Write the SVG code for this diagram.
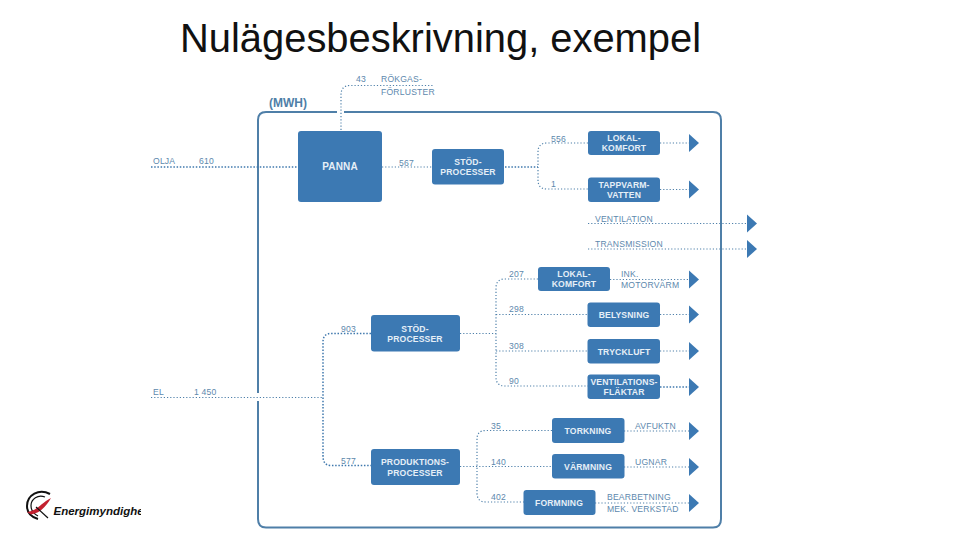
<svg xmlns="http://www.w3.org/2000/svg" width="960" height="540" viewBox="0 0 960 540">
<style>
text{font-family:"Liberation Sans",Arial,sans-serif}
.title{font-size:39.900px;fill:#111}
.frame{fill:none;stroke:#4f7fa8;stroke-width:2}
.c{fill:none;stroke:#4f80aa;stroke-width:1.200;stroke-dasharray:1.200 2}
.c2{fill:none;stroke:#3f78ad;stroke-width:1.500;stroke-dasharray:1.500 1.700}
.box{fill:#3c79b3}
.bt{font-size:8.600px;fill:#e6eff7;text-anchor:middle;letter-spacing:.15px;font-weight:bold}
.big{font-size:10px}
.l{font-size:8.600px;fill:#5d88ad;letter-spacing:.2px}
.h{font-size:12px;fill:#4f7fa8;font-weight:bold}
.ah{fill:#3c79b3}
</style>
<defs>
<marker id="a" markerUnits="userSpaceOnUse" markerWidth="11" markerHeight="20" refX="0" refY="9.500" orient="auto"><path d="M0 0.500L10 9.500L0 18.500Z" class="ah"/></marker>
</defs>
<rect width="960" height="540" fill="#fff"/>
<text class="title" x="180" y="51.500">Nulägesbeskrivning, exempel</text>
<path class="frame" d="M337 112H266Q258 112 258 120V393M258 401V519Q258 527.500 266 527.500H713Q721 527.500 721 519V120Q721 112 713 112H344"/>
<text class="h" x="269" y="106.500">(MWH)</text>
<g id="connectors">
<path class="c2" d="M151 167H298"/>
<path class="c" d="M382 167H432"/>
<path class="c" d="M341 130V95Q341 85.500 350 85.500H434"/>
<path class="c2" d="M505 167H538"/>
<path class="c" d="M588 143H547Q538 143 538 152V180Q538 189 547 189H588"/>
<path class="c" d="M660 143H689" marker-end="url(#a)"/>
<path class="c" d="M660 189.500H689" marker-end="url(#a)"/>
<path class="c" d="M588 223.500H747" marker-end="url(#a)"/>
<path class="c" d="M588 249H747" marker-end="url(#a)"/>
<path class="c" d="M151 397.500H323"/>
<path class="c2" d="M371 333.500H331Q323 333.500 323 342V456Q323 465.500 331 465.500H371"/>
<path class="c" d="M460 333.500H496"/>
<path class="c" d="M538 279H505Q496 279 496 288V377Q496 386 505 386H588"/>
<path class="c" d="M496 314.500H588M496 351H588"/>
<path class="c" d="M610 279.500H689" marker-end="url(#a)"/>
<path class="c" d="M660 314.500H689" marker-end="url(#a)"/>
<path class="c" d="M660 351H689" marker-end="url(#a)"/>
<path class="c2" d="M660 387H689" marker-end="url(#a)"/>
<path class="c" d="M460 466.500H552"/>
<path class="c" d="M552 430.500H486Q477 430.500 477 439V493Q477 502 486 502H524"/>
<path class="c" d="M624 431H689" marker-end="url(#a)"/>
<path class="c" d="M624 467H689" marker-end="url(#a)"/>
<path class="c" d="M595 503H689" marker-end="url(#a)"/>
</g>
<g id="panna"><rect class="box" x="298" y="131" width="84" height="71" rx="3"/><text class="bt big" x="340" y="169.500">PANNA</text></g>
<g id="stod1"><rect class="box" x="432" y="149" width="72" height="35.500" rx="3"/><text class="bt" x="468" y="165">STÖD-</text><text class="bt" x="468" y="174.500">PROCESSER</text></g>
<g id="lokal1"><rect class="box" x="588" y="131" width="72" height="24" rx="3"/><text class="bt" x="624" y="141">LOKAL-</text><text class="bt" x="624" y="151">KOMFORT</text></g>
<g id="tappvarm"><rect class="box" x="588" y="177.500" width="72" height="24.500" rx="3"/><text class="bt" x="624" y="188">TAPPVARM-</text><text class="bt" x="624" y="198">VATTEN</text></g>
<g id="lokal2"><rect class="box" x="538" y="267" width="72" height="24" rx="3"/><text class="bt" x="574" y="277">LOKAL-</text><text class="bt" x="574" y="287">KOMFORT</text></g>
<g id="belysning"><rect class="box" x="587.500" y="302.500" width="72.500" height="24.500" rx="3"/><text class="bt" x="624" y="318">BELYSNING</text></g>
<g id="tryckluft"><rect class="box" x="587.500" y="339" width="72.500" height="24.500" rx="3"/><text class="bt" x="624" y="354.500">TRYCKLUFT</text></g>
<g id="ventilationsflaktar"><rect class="box" x="587.500" y="374.500" width="72.500" height="24.500" rx="3"/><text class="bt" x="624" y="385">VENTILATIONS-</text><text class="bt" x="624" y="395">FLÄKTAR</text></g>
<g id="stod2"><rect class="box" x="371" y="315" width="89" height="36.500" rx="3"/><text class="bt" x="415" y="332">STÖD-</text><text class="bt" x="415" y="342">PROCESSER</text></g>
<g id="produktion"><rect class="box" x="371" y="449" width="89" height="36" rx="3"/><text class="bt" x="415" y="465">PRODUKTIONS-</text><text class="bt" x="415" y="476">PROCESSER</text></g>
<g id="torkning"><rect class="box" x="552" y="418" width="72.500" height="25" rx="3"/><text class="bt" x="588" y="434">TORKNING</text></g>
<g id="varmning"><rect class="box" x="552" y="454" width="72.500" height="24.500" rx="3"/><text class="bt" x="588" y="469.500">VÄRMNING</text></g>
<g id="formning"><rect class="box" x="523.500" y="490" width="72" height="25" rx="3"/><text class="bt" x="559" y="505.500">FORMNING</text></g>
<g id="labels">
<text class="l" x="356" y="82">43</text><text class="l" x="381" y="82">RÖKGAS-</text><text class="l" x="381" y="95">FÖRLUSTER</text>
<text class="l" x="153" y="164">OLJA</text><text class="l" x="199" y="164">610</text><text class="l" x="399" y="166">567</text>
<text class="l" x="551" y="142">556</text><text class="l" x="551" y="187">1</text>
<text class="l" x="595" y="222">VENTILATION</text><text class="l" x="595" y="247">TRANSMISSION</text>
<text class="l" x="509" y="277">207</text><text class="l" x="509" y="312">298</text><text class="l" x="509" y="349">308</text><text class="l" x="509" y="384">90</text>
<text class="l" x="621" y="277">INK.</text><text class="l" x="621" y="288">MOTORVÄRM</text>
<text class="l" x="341" y="332">903</text><text class="l" x="341" y="464">577</text>
<text class="l" x="153" y="395">EL</text><text class="l" x="194" y="395">1 450</text>
<text class="l" x="491" y="429">35</text><text class="l" x="491" y="465">140</text><text class="l" x="491" y="500">402</text>
<text class="l" x="635" y="429">AVFUKTN</text><text class="l" x="635" y="465">UGNAR</text>
<text class="l" x="607" y="500">BEARBETNING</text><text class="l" x="607" y="512">MEK. VERKSTAD</text>
</g>
<g id="logo">
<path d="M50 494C39 488 27 495 27 506C27 512 31 517 38 519" fill="none" stroke="#111" stroke-width="2"/>
<path d="M45 497C38 494 31 499 31 505.500C31 510 34 514 38 516" fill="none" stroke="#111" stroke-width="1.200"/>
<path d="M27 512C37 511 41 503 51 498C47 505 41 513 31 514.500Z" fill="#c3202f"/>
<path d="M36 507L48 518" stroke="#111" stroke-width="1.200" fill="none"/>
<text x="53.500" y="515" font-size="11.500" font-style="italic" font-weight="bold" fill="#111">Energimyndighet</text>
<rect x="141" y="500" width="14" height="24" fill="#fff"/>
</g>
</svg>
